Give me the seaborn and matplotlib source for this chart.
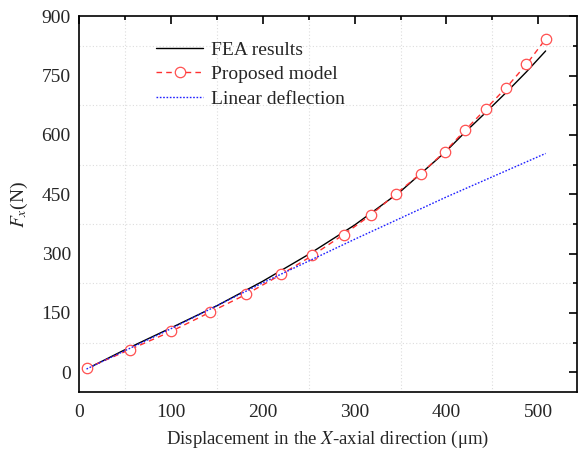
import matplotlib
matplotlib.use("Agg")
import matplotlib.pyplot as plt
from matplotlib.ticker import MultipleLocator
import pandas as pd
import seaborn as sns

# FEA results (solid black)
fea_x = [8, 50, 100, 150, 200, 250, 300, 350, 372, 398, 420, 443, 465, 487, 508]
fea_y = [8, 57, 112, 168, 230, 298, 372, 457, 502, 555, 606, 657, 707, 759, 812]

# Proposed model (dashed red, open circles)
model_x = [8, 55, 100, 142, 182, 220, 254, 288, 318, 345, 372,
           398, 420, 443, 465, 487, 508]
model_y = [10, 57, 103, 151, 197, 247, 295, 348, 398, 451, 502,
           557, 611, 666, 719, 778, 842]

# Linear deflection (dotted blue)
lin_x = [8, 100, 200, 300, 400, 508]
lin_y = [8, 110, 226, 336, 443, 553]

x_label = "Displacement in the $X$-axial direction (\u03bcm)"
y_label = "$F_x$(N)"

sns.set_style("white")
plt.rcParams['font.family'] = ['Liberation Serif', 'DejaVu Serif']
plt.rcParams['mathtext.fontset'] = 'stix'

fig = plt.figure(figsize=(5.78, 4.49), dpi=100)
ax = fig.add_axes([0.137, 0.127, 0.861, 0.837])

df_fea = pd.DataFrame({"x": fea_x, "y": fea_y})
df_model = pd.DataFrame({"x": model_x, "y": model_y})
df_lin = pd.DataFrame({"x": lin_x, "y": lin_y})

sns.lineplot(data=df_fea, x="x", y="y", ax=ax, color="black", lw=1.0,
             label="FEA results", sort=False)
sns.lineplot(data=df_model, x="x", y="y", ax=ax, color="#ff3030", lw=1.0,
             linestyle=(0, (4, 3)), marker="o", markersize=7.5,
             markerfacecolor="white", markeredgecolor="#ff5050",
             markeredgewidth=0.9, label="Proposed model", sort=False)
sns.lineplot(data=df_lin, x="x", y="y", ax=ax, color="#2020ff", lw=1.0,
             linestyle=(0, (1.2, 1.2)), label="Linear deflection", sort=False)

ax.set_xlim(0, 542)
ax.set_ylim(-50, 900)
ax.xaxis.set_major_locator(MultipleLocator(100))
ax.xaxis.set_minor_locator(MultipleLocator(50))
ax.yaxis.set_major_locator(MultipleLocator(150))
ax.yaxis.set_minor_locator(MultipleLocator(75))
ax.tick_params(which="both", direction="in", top=True, right=True,
               labelsize=14, width=1.2, color="black")
ax.tick_params(which="major", length=6)
ax.tick_params(which="minor", length=3)
ax.tick_params(axis="x", pad=9)
ax.tick_params(axis="y", pad=6)
ax.grid(which="minor", color="#dddddd", linestyle=(0, (1, 2)), lw=0.8)
ax.grid(which="major", visible=False)
for sp in ax.spines.values():
    sp.set_color("black")
    sp.set_linewidth(1.2)

ax.set_xlabel(x_label, fontsize=13.5, labelpad=5)
ax.set_ylabel(y_label, fontsize=14, labelpad=8)

ax.legend(loc="upper left", bbox_to_anchor=(0.12, 0.98), frameon=False,
          fontsize=14, handlelength=2.4, handletextpad=0.4, labelspacing=0.35)

fig.savefig("out.png", dpi=100)
